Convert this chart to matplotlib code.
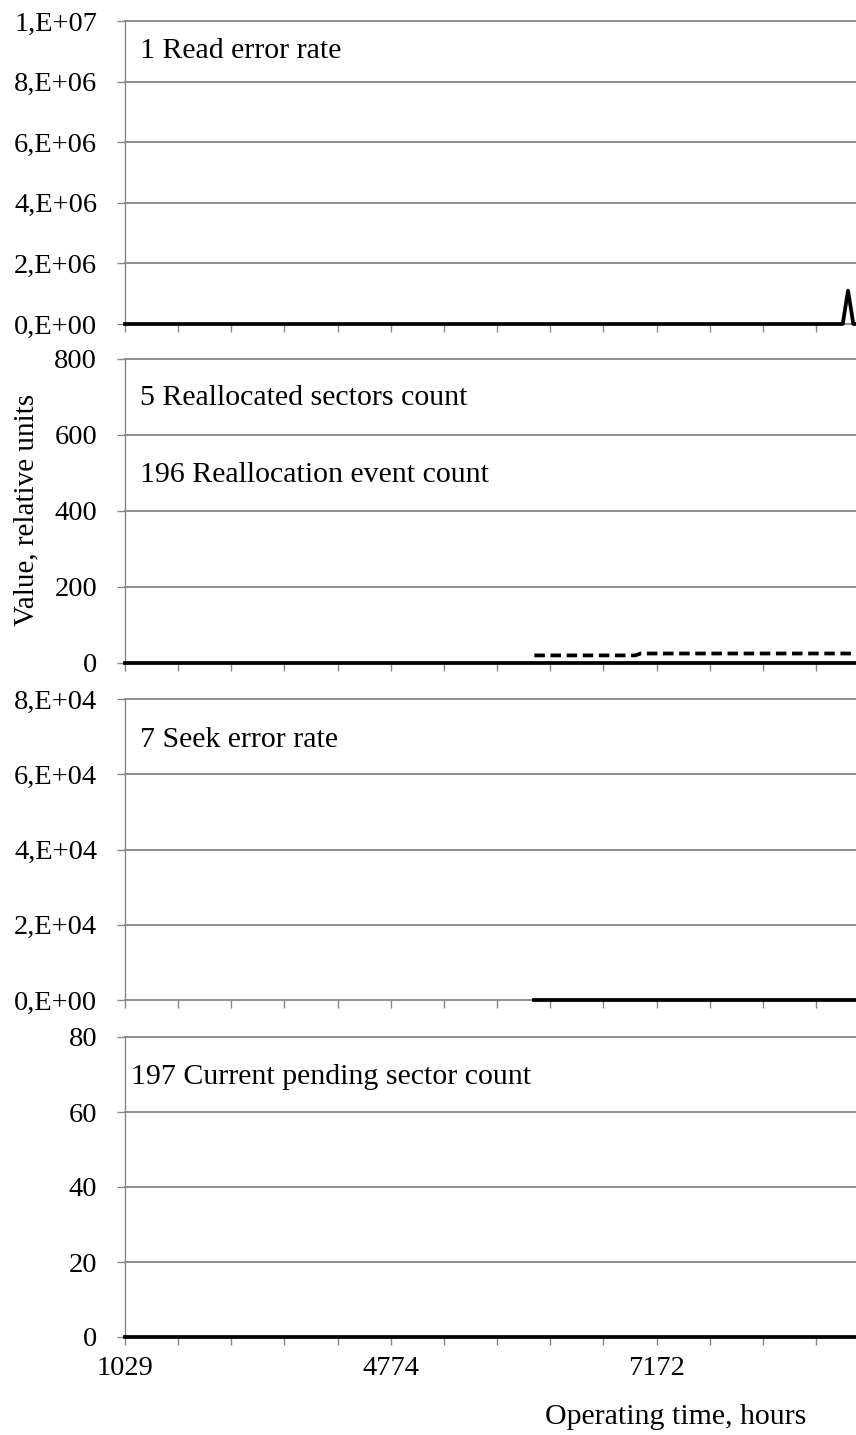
import matplotlib
matplotlib.use('Agg')
import numpy as np
import matplotlib.pyplot as plt

plt.rcParams['font.family'] = ['Liberation Serif', 'DejaVu Serif']

# category axis: readings, ticks every 10 readings
n_points = 139
tick_step = 10
hour_labels = ['1029', '4774', '7172']   # shown at readings 0, 50, 100
hour_label_pos = [0, 50, 100]

# 1 Read error rate
read_error_rate = [0] * 136 + [1.1e6, 0, 0]
# 5 Reallocated sectors count
reallocated_sectors = [0] * 139
# 196 Reallocation event count (no data before reading 77)
reallocation_events = [np.nan] * 77 + [20] * 20 + [25] * 42
# 7 Seek error rate (no data before reading 77)
seek_error_rate = [np.nan] * 77 + [0] * 62
# 197 Current pending sector count
pending_sectors = [0] * 139

p1_ticks = [0, 2e6, 4e6, 6e6, 8e6, 1e7]
p1_labels = ['0,E+00', '2,E+06', '4,E+06', '6,E+06', '8,E+06', '1,E+07']
p2_ticks = [0, 200, 400, 600, 800]
p2_labels = ['0', '200', '400', '600', '800']
p3_ticks = [0, 2e4, 4e4, 6e4, 8e4]
p3_labels = ['0,E+00', '2,E+04', '4,E+04', '6,E+04', '8,E+04']
p4_ticks = [0, 20, 40, 60, 80]
p4_labels = ['0', '20', '40', '60', '80']

W, H = 856, 1435
GRAY = '#868686'


def make_panel(fig, top_px, bottom_px, ticks, labels):
    left = 125 / W
    ax = fig.add_axes([left, 1 - bottom_px / H, 1 - left, (bottom_px - top_px) / H])
    ax.set_xlim(0, 137.5)
    ax.set_ylim(0, ticks[-1])
    for s in ['top', 'right']:
        ax.spines[s].set_visible(False)
    ax.spines['left'].set_color(GRAY)
    ax.spines['left'].set_linewidth(1.0)
    ax.spines['bottom'].set_color(GRAY)
    ax.spines['bottom'].set_linewidth(1.3)
    ax.set_yticks(ticks)
    ax.set_yticklabels(labels)
    for t in ticks[1:]:
        ax.axhline(t, color=GRAY, lw=1.3, zorder=1, clip_on=False)
    ax.set_xticks(range(0, n_points, tick_step))
    ax.set_xticklabels([])
    ax.tick_params(axis='y', direction='out', length=6, width=1, color=GRAY,
                   labelsize=20.5, pad=14)
    ax.tick_params(axis='x', direction='out', length=5.5, width=1, color=GRAY,
                   labelsize=20.5, pad=8)
    ax.patch.set_alpha(0)
    return ax


def main():
    fig = plt.figure(figsize=(W / 100, H / 100), dpi=100)
    x = np.arange(n_points)
    line_kw = dict(color='black', lw=2.7, clip_on=False, zorder=3)

    ax1 = make_panel(fig, 21, 324, p1_ticks, p1_labels)
    ax1.plot(x, read_error_rate, **line_kw)

    ax2 = make_panel(fig, 359, 663, p2_ticks, p2_labels)
    ax2.plot(x, reallocated_sectors, **line_kw)
    ax2.plot(x, reallocation_events, ls=(0, (2.8, 1.5)), **line_kw)

    ax3 = make_panel(fig, 699, 1000, p3_ticks, p3_labels)
    ax3.plot(x, seek_error_rate, **line_kw)

    ax4 = make_panel(fig, 1037, 1337, p4_ticks, p4_labels)
    ax4.plot(x, pending_sectors, **line_kw)
    ax4.set_xticklabels([hour_labels[hour_label_pos.index(i)] if i in hour_label_pos else ''
                         for i in range(0, n_points, tick_step)])

    # panel captions, placed in figure pixels
    captions = [
        (140, 51, '1 Read error rate'),
        (140, 398, '5 Reallocated sectors count'),
        (140, 475, '196 Reallocation event count'),
        (140, 740, '7 Seek error rate'),
        (131, 1077, '197 Current pending sector count'),
    ]
    for cx, cy, txt in captions:
        fig.text(cx / W, 1 - cy / H, txt, fontsize=21.5, va='center', ha='left')

    fig.text(26 / W, 1 - 510 / H, 'Value, relative units', fontsize=21,
             rotation=90, ha='center', va='center')
    fig.text(676 / W, 1 - 1417 / H, 'Operating time, hours', fontsize=21.5,
             ha='center', va='center')

    fig.savefig('out.png', dpi=100)


if __name__ == "__main__":
    main()
